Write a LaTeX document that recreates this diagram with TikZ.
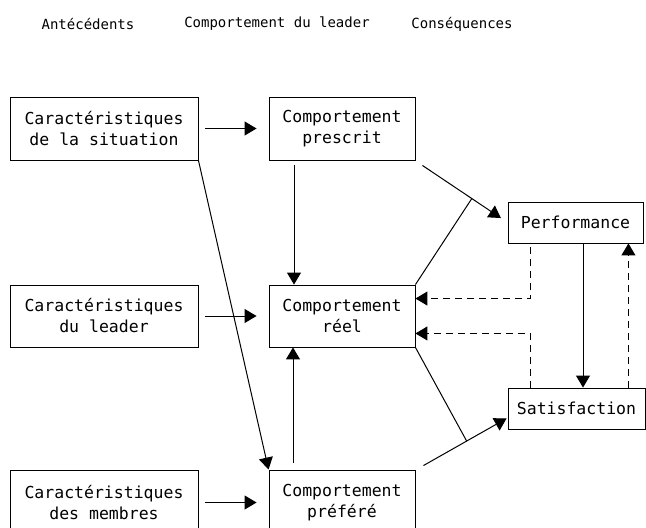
\documentclass[tikz,border=0pt]{standalone}
\usepackage{fontspec}
\setmainfont{DejaVu Sans Mono}
\usetikzlibrary{arrows.meta,calc}
\begin{document}
\begin{tikzpicture}[x=1pt,y=-1pt,
  box/.style={draw, line width=0.9pt, inner sep=0pt, align=center,
    font=\fontsize{16.5}{21}\selectfont},
  head/.style={inner sep=0pt, font=\fontsize{14}{16}\selectfont},
  arr/.style={line width=1pt, -{Triangle[length=12pt,width=14pt]}},
  plain/.style={line width=1pt},
  dasharr/.style={line width=1pt, dash pattern=on 7pt off 5pt, -{Triangle[length=12pt,width=14pt]}}]
\clip (0,0) rectangle (646,528);
% headers
\node[head] (h1) at (88,24) {Antécédents};
\node[head] (h2) at (277,24) {Comportement du leader};
\node[head] (h3) at (462,24) {Conséquences};
% antecedents
\node[box, minimum width=188pt, minimum height=63pt] (A1) at (104,128.5) {Caractéristiques\\de la situation};
\node[box, minimum width=188pt, minimum height=62pt] (A2) at (104,316) {Caractéristiques\\du leader};
\node[box, minimum width=188pt, minimum height=64pt] (A3) at (104,502.5) {Caractéristiques\\des membres};
% leader behaviour
\node[box, minimum width=146pt, minimum height=63pt] (B1) at (342,128.5) {Comportement\\prescrit};
\node[box, minimum width=146pt, minimum height=62pt] (B2) at (342,316) {Comportement\\réel};
\node[box, minimum width=146pt, minimum height=65pt] (B3) at (342,502.5) {Comportement\\préféré};
% consequences
\node[box, minimum width=135pt, minimum height=41pt] (C1) at (575.5,222.5) {Performance};
\node[box, minimum width=137pt, minimum height=41pt] (C2) at (576.5,408.5) {Satisfaction};
% horizontal arrows
\draw[arr, shorten <=7pt, shorten >=12pt] (A1) -- (B1);
\draw[arr, shorten <=7pt, shorten >=12pt] (A2) -- (B2);
\draw[arr, shorten <=7pt, shorten >=12pt] (A3) -- (B3);
% long diagonal
\draw[arr] (A1.south east) -- (B3.north west);
% verticals into B2
\draw[arr, shorten <=5pt] ([xshift=-48pt]B1.south) -- ([xshift=-48pt]B2.north);
\draw[arr, shorten <=7pt] ([xshift=-49pt]B3.north) -- ([xshift=-49pt]B2.south);
% B1 -> Performance with interaction line from B2
\coordinate (p1) at ([shift={(7,5)}]B1.south east);
\draw[arr, shorten >=8pt] (p1) -- (C1.west);
\coordinate (j1) at ($(p1)!0.58!(C1.west)$);
\draw[plain] (B2.north east) -- (j1);
% B3 -> Satisfaction with interaction line from B2
\coordinate (p2) at ([shift={(8,-4)}]B3.north east);
\coordinate (t2) at ([shift={(-1,-11)}]C2.south west);
\draw[arr] (p2) -- (t2);
\coordinate (j2) at ($(p2)!0.52!(t2)$);
\draw[plain] (B2.south east) -- (j2);
% Performance <-> Satisfaction
\coordinate (ps) at ([xshift=7.5pt]C1.south);
\draw[arr] (ps) -- (ps |- C2.north);
\coordinate (qs) at ([xshift=-15pt]C1.south east);
\draw[dasharr] (qs |- C2.north) -- (qs);
% feedback to B2
\draw[dasharr, shorten <=4pt] ([xshift=23pt]C1.south west) |- ([shift={(0,14)}]B2.north east);
\draw[dasharr] ([xshift=23pt]C2.north west) |- ([shift={(0,-14)}]B2.south east);
\end{tikzpicture}
\end{document}
